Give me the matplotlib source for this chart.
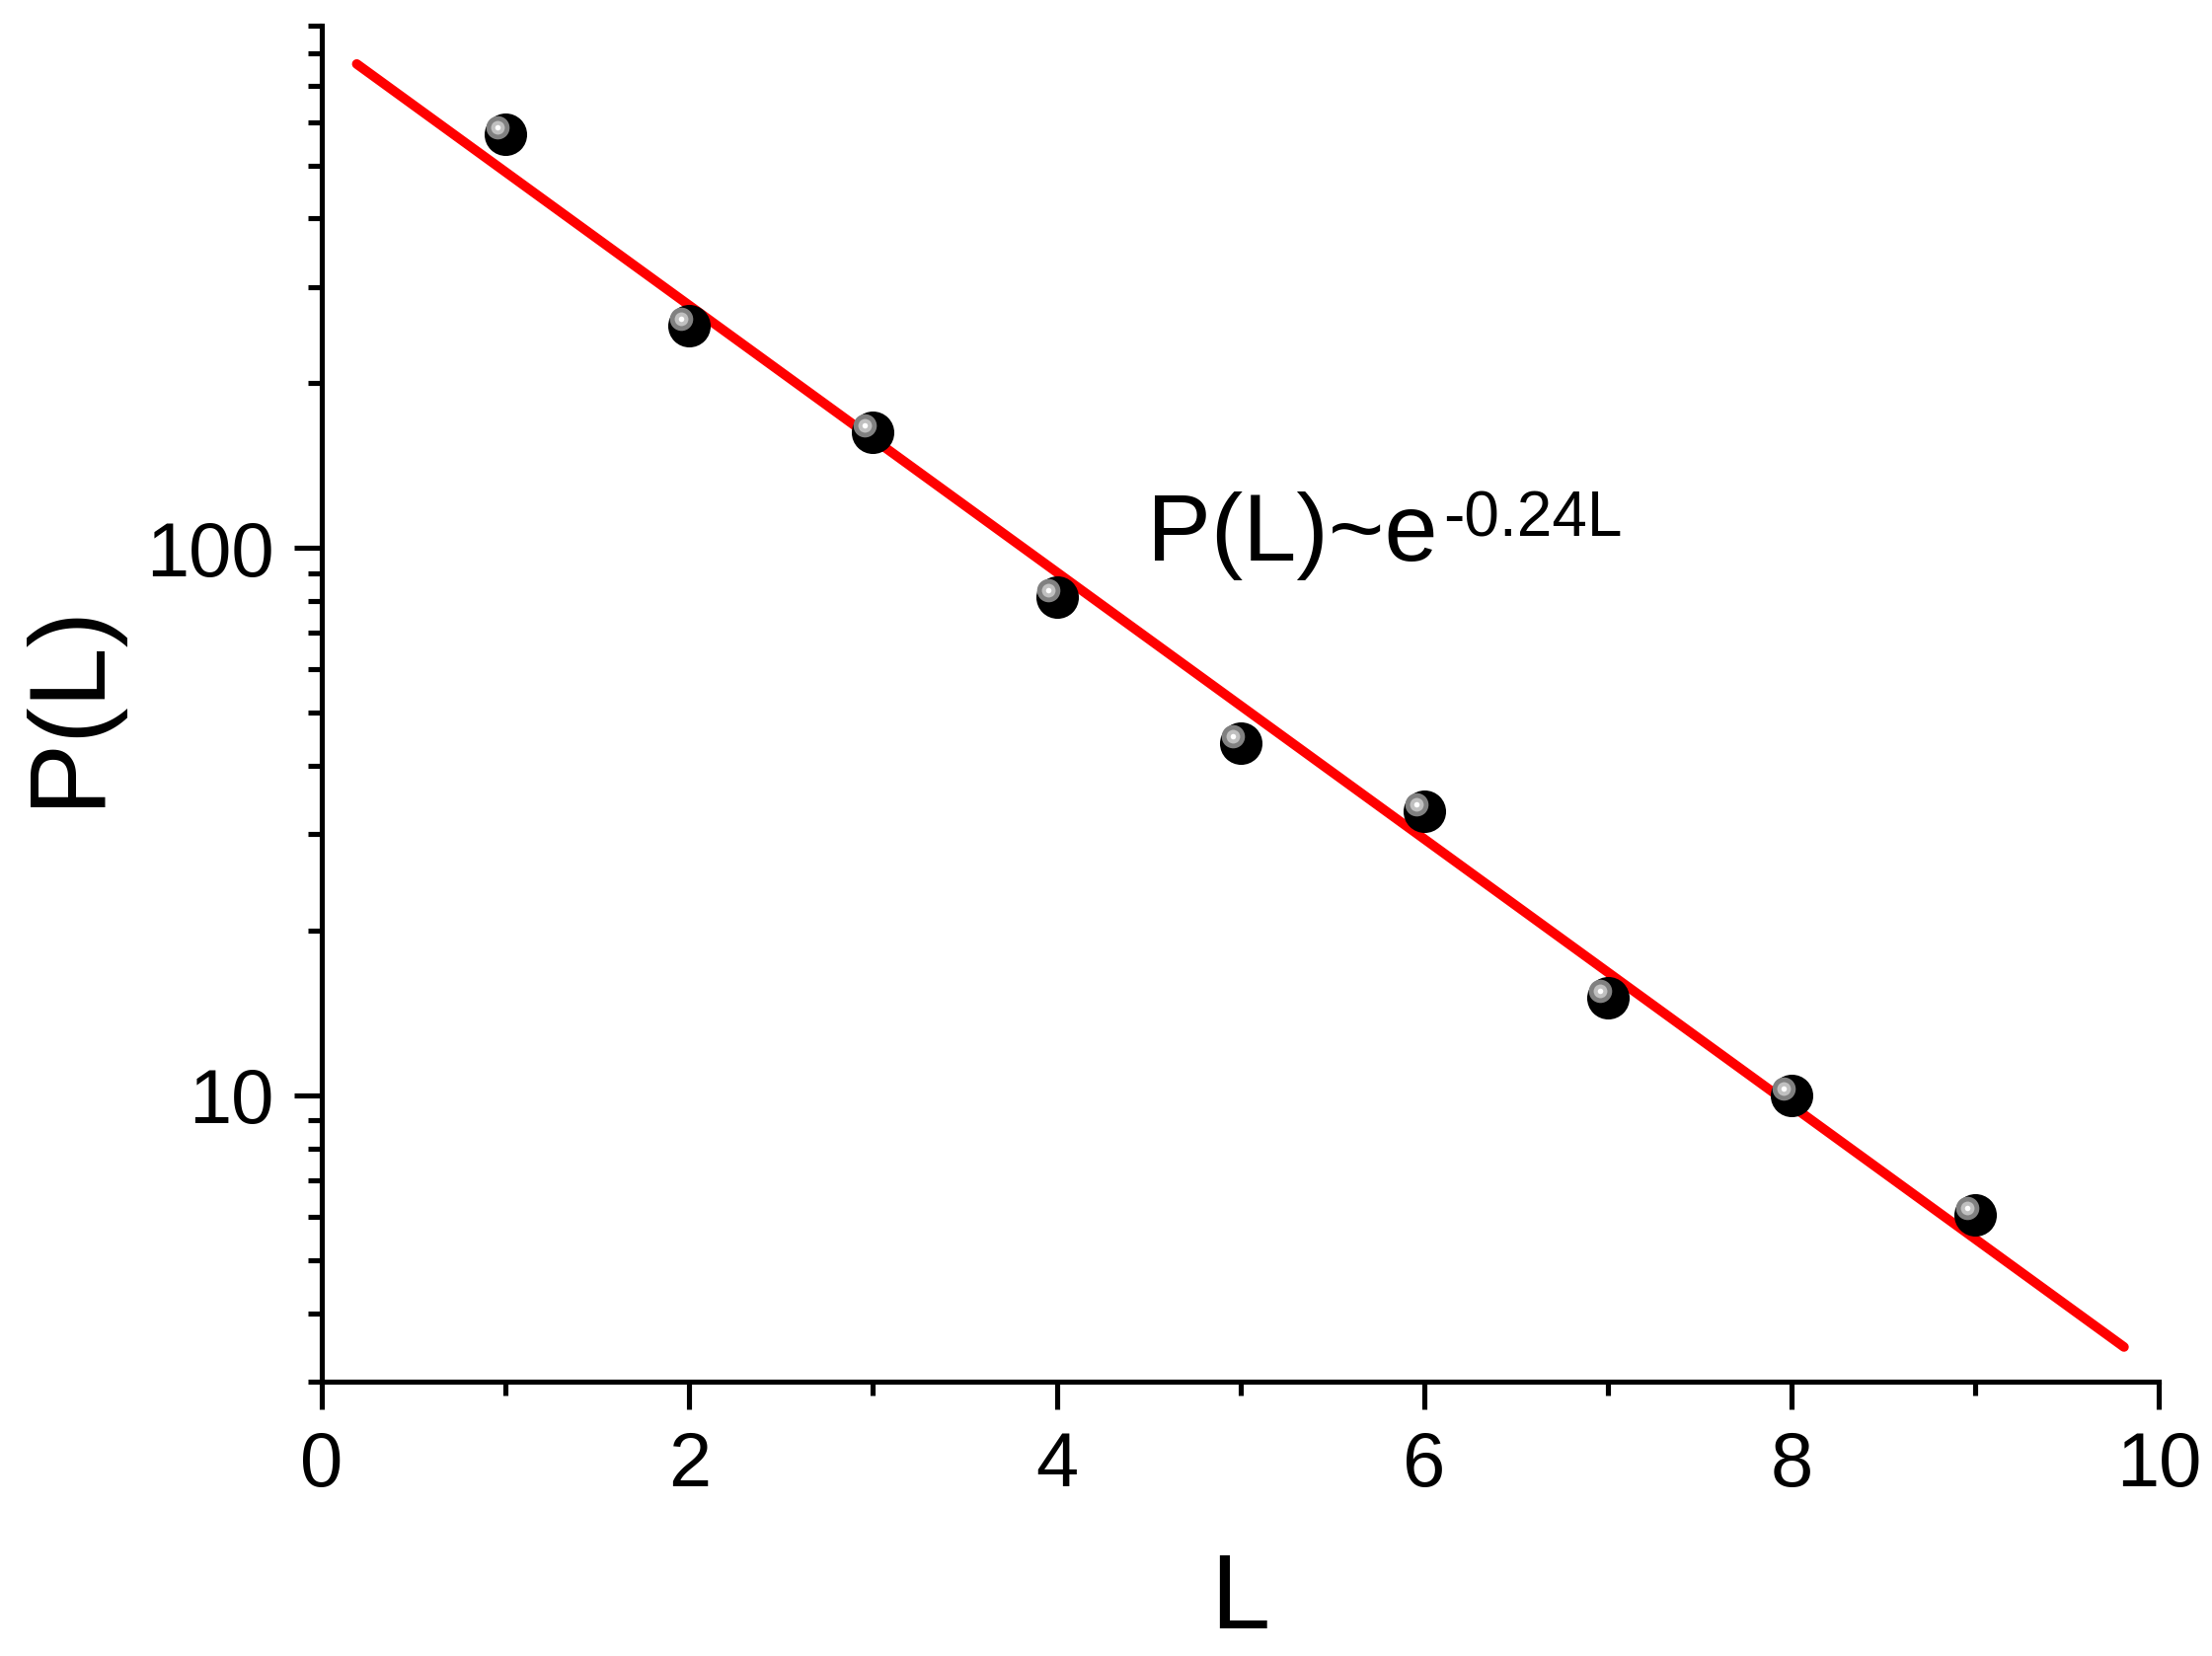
import matplotlib
matplotlib.use("Agg")
import matplotlib.pyplot as plt
import matplotlib.ticker as ticker
import matplotlib.transforms as mtransforms
import numpy as np

# data
L_vals = [1, 2, 3, 4, 5, 6, 7, 8, 9]
P_vals = [570, 255, 163, 81.5, 44, 33, 15.1, 10.0, 6.05]

# fitted line end points (as drawn)
fit_L = [0.19, 9.81]
fit_P = [766, 3.47]

x_ticks = [0, 2, 4, 6, 8, 10]
y_ticks = [10, 100]

plt.rcParams['font.family'] = ['Liberation Sans', 'DejaVu Sans']

fig = plt.figure(figsize=(22.41, 16.78), dpi=100)
ax = fig.add_axes([0.1455, 0.1657, 0.976 - 0.1455, 0.9845 - 0.1657])

ax.plot(fit_L, fit_P, color='#ff0000', lw=7, solid_capstyle='round', zorder=2)

# black balls with a small highlight
ax.scatter(L_vals, P_vals, s=31**2, color='black', zorder=3, linewidths=0)
hl = mtransforms.offset_copy(ax.transData, fig=fig, x=-5.8, y=5.0, units='points')
ax.scatter(L_vals, P_vals, s=17**2, color='#808080', transform=hl, zorder=4, linewidths=0)
ax.scatter(L_vals, P_vals, s=10**2, color='#c0c0c0', transform=hl, zorder=5, linewidths=0)
ax.scatter(L_vals, P_vals, s=4**2, color='white', transform=hl, zorder=6, linewidths=0)

ax.set_yscale('log')
ax.set_xlim(0, 10)
ax.set_ylim(3, 900)
ax.set_xticks(x_ticks)
ax.xaxis.set_minor_locator(ticker.MultipleLocator(1))
ax.set_yticks(y_ticks)
ax.yaxis.set_major_formatter(ticker.FuncFormatter(lambda v, p: f"{v:g}"))
ax.yaxis.set_minor_formatter(ticker.NullFormatter())

for s in ['top', 'right']:
    ax.spines[s].set_visible(False)
for s in ['left', 'bottom']:
    ax.spines[s].set_linewidth(3.7)

ax.tick_params(which='major', length=20, width=3.7, direction='out', labelsize=56, pad=15)
ax.tick_params(which='minor', length=10, width=3.7, direction='out')

ax.set_xlabel('L', fontsize=78, labelpad=36)
ax.set_ylabel('P(L)', fontsize=79, labelpad=19)

# annotation with a plain hyphen in the exponent
t1 = ax.text(4.49, 95, 'P(L)~e', fontsize=70, ha='left', va='baseline')
ax.annotate('-0.24L', xy=(1, 0), xycoords=t1, xytext=(4, 32),
            textcoords='offset points', fontsize=46, ha='left', va='baseline')

fig.savefig('out.png', dpi=100, facecolor='white')
